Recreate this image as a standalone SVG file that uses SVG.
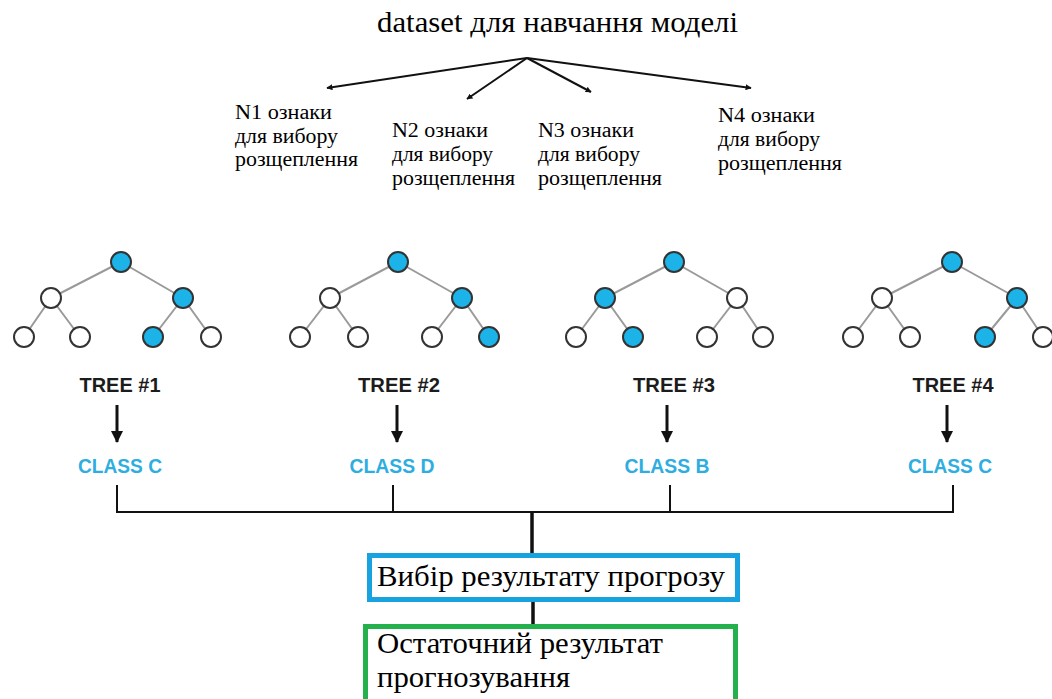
<svg xmlns="http://www.w3.org/2000/svg" width="1052" height="699" viewBox="0 0 1052 699">
<defs>
<style>
.serif{font-family:"Liberation Serif","Times New Roman",serif;fill:#000}
.lbl{font-family:"Liberation Sans",Arial,sans-serif;font-weight:700;font-size:21px;text-anchor:middle}
.tree{fill:#1c1c1c}
.cls{fill:#2eaee0}
.edge{stroke:#9a9a9a;stroke-width:2;fill:none}
.n{stroke:#333;stroke-width:2;fill:#fff}
.f{fill:#1cb4e8}
.con{stroke:#111;fill:none}
</style>
<marker id="sm" viewBox="0 0 10 10" refX="9" refY="5" markerWidth="6" markerHeight="6" orient="auto" markerUnits="userSpaceOnUse">
<path d="M0,0 L10,5 L0,10 z" fill="#111"/>
</marker>
<marker id="big" viewBox="0 0 12 12" refX="11" refY="6" markerWidth="12" markerHeight="12" orient="auto" markerUnits="userSpaceOnUse">
<path d="M0,0 L12,6 L0,12 z" fill="#111"/>
</marker>
</defs>
<rect width="1052" height="699" fill="#fff"/>

<g id="title">
<text class="serif" x="377" y="32" font-size="29" textLength="361" lengthAdjust="spacingAndGlyphs">dataset для навчання моделі</text>
</g>

<g id="connectors">
<line class="con" stroke-width="2" x1="527" y1="58" x2="327" y2="88" marker-end="url(#sm)"/>
<line class="con" stroke-width="2" x1="527" y1="58" x2="467" y2="99" marker-end="url(#sm)"/>
<line class="con" stroke-width="2" x1="527" y1="58" x2="591" y2="92" marker-end="url(#sm)"/>
<line class="con" stroke-width="2" x1="527" y1="58" x2="751" y2="88" marker-end="url(#sm)"/>
<line class="con" stroke-width="3" x1="117" y1="405" x2="117" y2="442" marker-end="url(#big)"/>
<line class="con" stroke-width="3" x1="397" y1="405" x2="397" y2="442" marker-end="url(#big)"/>
<line class="con" stroke-width="3" x1="667" y1="405" x2="667" y2="442" marker-end="url(#big)"/>
<line class="con" stroke-width="3" x1="947" y1="405" x2="947" y2="442" marker-end="url(#big)"/>
<path class="con" stroke-width="2" d="M117,485 V512 H953 V485 M393,485 V512 M670,485 V512"/>
<line class="con" stroke-width="3.5" x1="532" y1="511" x2="532" y2="554"/>
<line class="con" stroke-width="3.5" x1="533" y1="601" x2="533" y2="626"/>
</g>

<g id="n1">
<text class="serif" font-size="20" x="235" y="119" textLength="97" lengthAdjust="spacingAndGlyphs">N1 ознаки</text>
<text class="serif" font-size="20" x="235" y="143" textLength="103" lengthAdjust="spacingAndGlyphs">для вибору</text>
<text class="serif" font-size="20" x="235" y="166" textLength="123" lengthAdjust="spacingAndGlyphs">розщеплення</text>
</g>
<g id="n2">
<text class="serif" font-size="20" x="392" y="137" textLength="96" lengthAdjust="spacingAndGlyphs">N2 ознаки</text>
<text class="serif" font-size="20" x="392" y="161" textLength="101" lengthAdjust="spacingAndGlyphs">для вибору</text>
<text class="serif" font-size="20" x="392" y="185" textLength="123" lengthAdjust="spacingAndGlyphs">розщеплення</text>
</g>
<g id="n3">
<text class="serif" font-size="20" x="538" y="137" textLength="96" lengthAdjust="spacingAndGlyphs">N3 ознаки</text>
<text class="serif" font-size="20" x="538" y="161" textLength="102" lengthAdjust="spacingAndGlyphs">для вибору</text>
<text class="serif" font-size="20" x="538" y="185" textLength="124" lengthAdjust="spacingAndGlyphs">розщеплення</text>
</g>
<g id="n4">
<text class="serif" font-size="20" x="718" y="122" textLength="97" lengthAdjust="spacingAndGlyphs">N4 ознаки</text>
<text class="serif" font-size="20" x="718" y="146" textLength="102" lengthAdjust="spacingAndGlyphs">для вибору</text>
<text class="serif" font-size="20" x="718" y="170" textLength="124" lengthAdjust="spacingAndGlyphs">розщеплення</text>
</g>

<g id="tree1">
<path class="edge" d="M121,262 L51,298 M121,262 L183,298 M51,298 L24,337 M51,298 L80,337 M183,298 L153,337 M183,298 L211,337"/>
<circle class="n f" cx="121" cy="262" r="10"/>
<circle class="n" cx="51" cy="298" r="10"/>
<circle class="n f" cx="183" cy="298" r="10"/>
<circle class="n" cx="24" cy="337" r="10"/>
<circle class="n" cx="80" cy="337" r="10"/>
<circle class="n f" cx="153" cy="337" r="10"/>
<circle class="n" cx="211" cy="337" r="10"/>
<text class="lbl tree" x="120" y="392" textLength="81" lengthAdjust="spacingAndGlyphs">TREE #1</text>
<text class="lbl cls" x="120" y="473" textLength="84" lengthAdjust="spacingAndGlyphs">CLASS C</text>
</g>

<g id="tree2">
<path class="edge" d="M398,262 L330,298 M398,262 L462,298 M330,298 L300,337 M330,298 L358,337 M462,298 L432,337 M462,298 L489,337"/>
<circle class="n f" cx="398" cy="262" r="10"/>
<circle class="n" cx="330" cy="298" r="10"/>
<circle class="n f" cx="462" cy="298" r="10"/>
<circle class="n" cx="300" cy="337" r="10"/>
<circle class="n" cx="358" cy="337" r="10"/>
<circle class="n" cx="432" cy="337" r="10"/>
<circle class="n f" cx="489" cy="337" r="10"/>
<text class="lbl tree" x="399" y="392" textLength="82" lengthAdjust="spacingAndGlyphs">TREE #2</text>
<text class="lbl cls" x="392" y="473" textLength="85" lengthAdjust="spacingAndGlyphs">CLASS D</text>
</g>

<g id="tree3">
<path class="edge" d="M674,262 L605,298 M674,262 L737,298 M605,298 L576,337 M605,298 L633,337 M737,298 L707,337 M737,298 L763,337"/>
<circle class="n f" cx="674" cy="262" r="10"/>
<circle class="n f" cx="605" cy="298" r="10"/>
<circle class="n" cx="737" cy="298" r="10"/>
<circle class="n" cx="576" cy="337" r="10"/>
<circle class="n f" cx="633" cy="337" r="10"/>
<circle class="n" cx="707" cy="337" r="10"/>
<circle class="n" cx="763" cy="337" r="10"/>
<text class="lbl tree" x="674" y="392" textLength="82" lengthAdjust="spacingAndGlyphs">TREE #3</text>
<text class="lbl cls" x="667" y="473" textLength="85" lengthAdjust="spacingAndGlyphs">CLASS B</text>
</g>

<g id="tree4">
<path class="edge" d="M952,262 L882,298 M952,262 L1017,298 M882,298 L853,337 M882,298 L910,337 M1017,298 L985,337 M1017,298 L1043,337"/>
<circle class="n f" cx="952" cy="262" r="10"/>
<circle class="n" cx="882" cy="298" r="10"/>
<circle class="n f" cx="1017" cy="298" r="10"/>
<circle class="n" cx="853" cy="337" r="10"/>
<circle class="n" cx="910" cy="337" r="10"/>
<circle class="n f" cx="985" cy="337" r="10"/>
<circle class="n" cx="1043" cy="337" r="10"/>
<text class="lbl tree" x="953" y="392" textLength="81" lengthAdjust="spacingAndGlyphs">TREE #4</text>
<text class="lbl cls" x="950" y="473" textLength="84" lengthAdjust="spacingAndGlyphs">CLASS C</text>
</g>

<g id="select">
<rect x="369.5" y="555.5" width="368" height="44" fill="#fff" stroke="#19a2e0" stroke-width="5"/>
<text class="serif" font-size="29" x="377" y="586" textLength="348" lengthAdjust="spacingAndGlyphs">Вибір результату прогрозу</text>
</g>

<g id="final">
<rect x="365.5" y="626.5" width="370" height="90" fill="#fff" stroke="#22b14c" stroke-width="5"/>
<text class="serif" font-size="29" x="377" y="653" textLength="286" lengthAdjust="spacingAndGlyphs">Остаточний результат</text>
<text class="serif" font-size="29" x="377" y="687" textLength="193" lengthAdjust="spacingAndGlyphs">прогнозування</text>
</g>
</svg>
